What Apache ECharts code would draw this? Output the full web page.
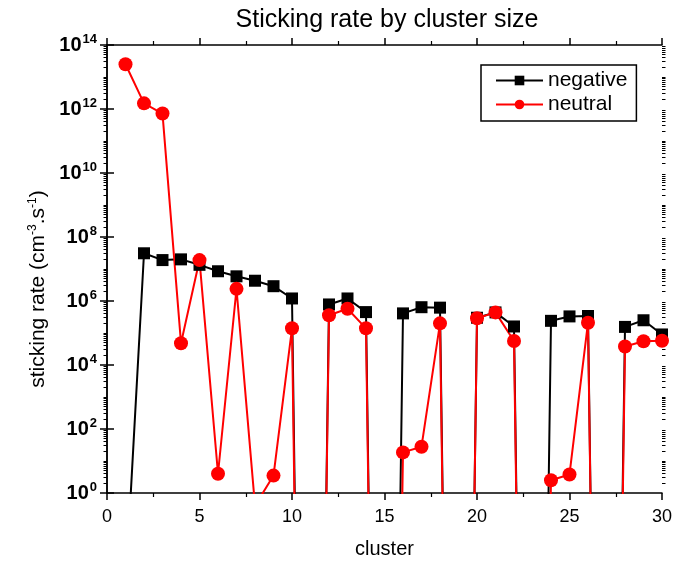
<!DOCTYPE html>
<html>
<head>
<meta charset="utf-8">
<script src="https://cdn.jsdelivr.net/npm/echarts@6/dist/echarts.min.js"></script>
<style>
  html, body { margin: 0; padding: 0; background: #fff; }
  #chart { width: 681px; height: 564px; }
</style>
</head>
<body>
<div id="chart"></div>
<script>
// 数据：团簇尺寸 与 两条曲线 (低于 1 的值画到坐标轴下方)
var clusters = [1, 2, 3, 4, 5, 6, 7, 8, 9, 10,
                11, 12, 13, 14, 15, 16, 17, 18, 19, 20,
                21, 22, 23, 24, 25, 26, 27, 28, 29, 30];

var negative = [1e-3, 3.1e7, 1.9e7, 2.0e7, 1.35e7, 8.5e6, 5.9e6, 4.3e6, 2.9e6, 1.2e6,
                1e-35, 7.8e5, 1.2e6, 4.5e5, 1e-35, 4.1e5, 6.4e5, 6.2e5, 1e-35, 3.0e5,
                4.4e5, 1.6e5, 1e-35, 2.4e5, 3.3e5, 3.4e5, 1e-35, 1.55e5, 2.5e5, 9e4];

var neutral = [2.5e13, 1.5e12, 7.2e11, 4.8e4, 1.9e7, 4.0, 2.4e6, 0.4, 3.5, 1.4e5,
               1e-35, 3.6e5, 5.7e5, 1.4e5, 1e-35, 18.6, 28, 2.0e5, 1e-35, 2.9e5,
               4.4e5, 5.6e4, 1e-35, 2.5, 3.8, 2.1e5, 1e-35, 3.8e4, 5.5e4, 5.7e4];

var xTicks = [0, 5, 10, 15, 20, 25, 30];
var yExponents = [0, 2, 4, 6, 8, 10, 12, 14];

// 对数轴的次刻度 (在 log10 空间中的位置)
var minorTicks = [];
for (var e = 0; e < 14; e++) {
    for (var k = 2; k <= 10; k++) {
        var p = Math.log10(k * Math.pow(10, e));
        if (k < 10 || yExponents.indexOf(e + 1) < 0) minorTicks.push(p);
    }
}

var font = 'Liberation Sans, Arial, sans-serif';
var myChart = echarts.init(document.getElementById('chart'));

function toPairs(ys) {
    return clusters.map(function (x, i) { return [x, ys[i]]; });
}

var xBase = {
    type: 'value',
    min: xTicks[0],
    max: xTicks[xTicks.length - 1],
    interval: 5,
    splitLine: { show: false },
    axisLine: { show: true, onZero: false, lineStyle: { color: '#000', width: 1.5 } },
    axisTick: { show: true, inside: false, length: 7, lineStyle: { color: '#000', width: 1.5 } },
    minorTick: { show: true, splitNumber: 2, length: 4, lineStyle: { color: '#000', width: 1.2 } }
};

var logBase = function (pos) {
    return {
        type: 'log',
        logBase: 10,
        position: pos,
        min: 1,
        max: 1e14,
        interval: 2,
        splitLine: { show: false },
        axisLine: { show: true, lineStyle: { color: '#000', width: 1.5 } },
        axisTick: { show: true, length: 7, lineStyle: { color: '#000', width: 1.5 } },
        axisLabel: { show: false }
    };
};

var minorYAxis = function (pos) {
    return {
        type: 'value',
        position: pos,
        min: 0,
        max: 14,
        axisLine: { show: false },
        axisLabel: { show: false },
        splitLine: { show: false },
        axisTick: { show: true, length: 3.5, customValues: minorTicks, lineStyle: { color: '#000', width: 1 } }
    };
};

const option = {
    backgroundColor: '#fff',
    animation: false,
    title: {
        text: 'Sticking rate by cluster size',
        left: 382,
        textAlign: 'center',
        top: 3,
        textStyle: { fontFamily: font, fontSize: 25, fontWeight: 'normal', color: '#000' }
    },
    grid: { left: 107, right: 19, top: 45, bottom: 67, containLabel: false },
    legend: {
        orient: 'vertical',
        left: 481,
        top: 65,
        padding: [5, 9, 6, 14],
        itemGap: 3,
        itemWidth: 47,
        itemHeight: 12,
        borderColor: '#000',
        borderWidth: 1.5,
        backgroundColor: '#fff',
        textStyle: { fontFamily: font, fontSize: 21, color: '#000' },
        data: ['negative', 'neutral']
    },
    xAxis: [
        Object.assign({}, xBase, {
            position: 'bottom',
            name: 'cluster',
            nameLocation: 'middle',
            nameGap: 46,
            nameTextStyle: { fontFamily: font, fontSize: 20, color: '#000' },
            axisLabel: { margin: 15, fontFamily: font, fontSize: 18, color: '#000' }
        }),
        Object.assign({}, xBase, { position: 'top', axisLabel: { show: false } })
    ],
    yAxis: [
        Object.assign(logBase('left'), {
            axisLabel: {
                margin: 10,
                formatter: function (v) {
                    return '{b|10}{s|' + Math.round(Math.log10(v)) + '}';
                },
                rich: {
                    b: { fontFamily: font, fontSize: 20, fontWeight: 'bold', color: '#000' },
                    s: { fontFamily: font, fontSize: 13, fontWeight: 'bold', color: '#000', padding: [0, 0, 11, 1] }
                }
            },
            name: '{n|sticking rate (cm}{s|-3}{n|.s}{s|-1}{n|)}',
            nameLocation: 'middle',
            nameGap: 50,
            nameTextStyle: {
                padding: [0, 40, 0, 0],
                rich: {
                    n: { fontFamily: font, fontSize: 21, color: '#000' },
                    s: { fontFamily: font, fontSize: 12, color: '#000', padding: [0, 0, 11, 0] }
                }
            }
        }),
        logBase('right'),
        minorYAxis('left'),
        minorYAxis('right')
    ],
    series: [
        {
            name: 'negative',
            type: 'line',
            xAxisIndex: 0,
            yAxisIndex: 0,
            symbol: 'rect',
            symbolSize: 12,
            clip: true,
            color: '#000',
            lineStyle: { color: '#000', width: 2 },
            itemStyle: { color: '#000' },
            data: toPairs(negative)
        },
        {
            name: 'neutral',
            type: 'line',
            xAxisIndex: 0,
            yAxisIndex: 0,
            symbol: 'circle',
            symbolSize: 14,
            clip: true,
            color: '#ff0000',
            lineStyle: { color: '#ff0000', width: 2 },
            itemStyle: { color: '#ff0000' },
            data: toPairs(neutral)
        }
    ]
};

myChart.setOption(option);
</script>
</body>
</html>
